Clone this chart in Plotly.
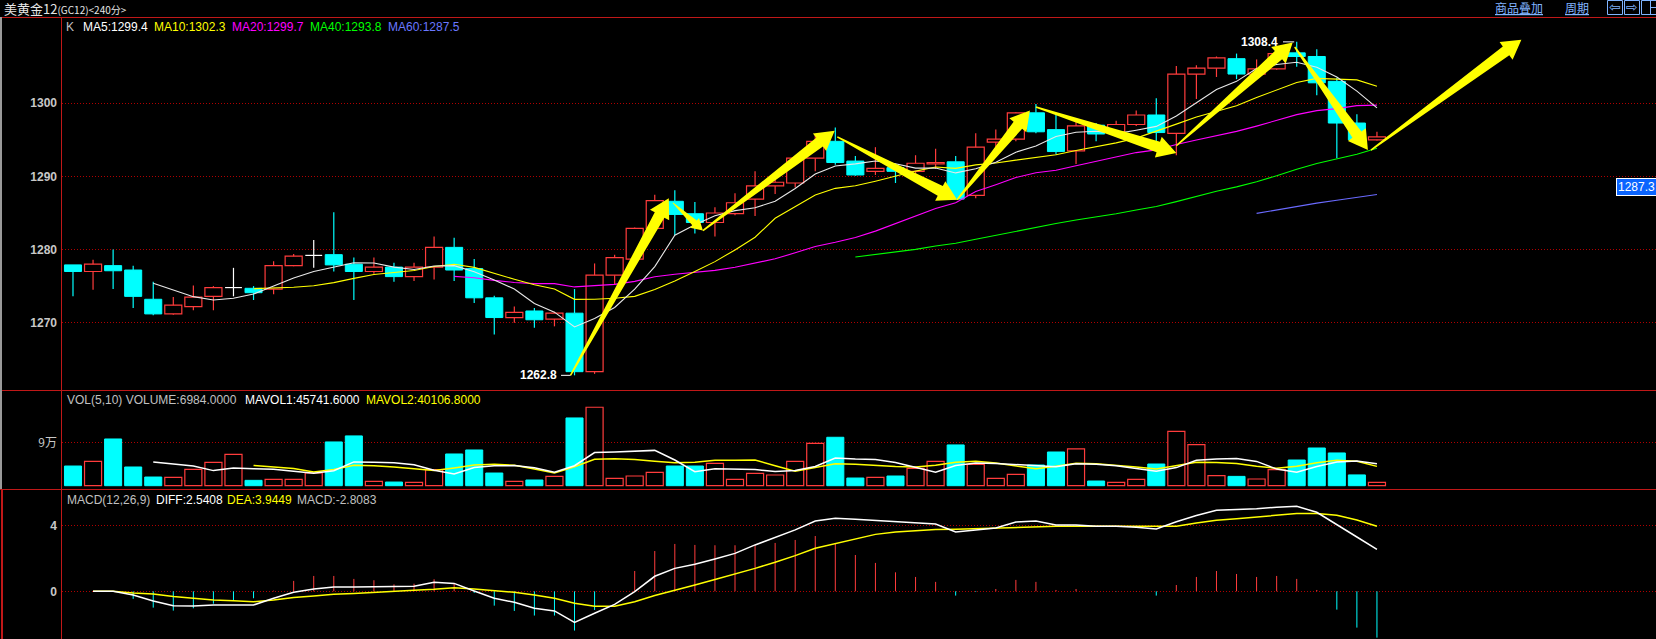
import math
import plotly.graph_objects as go

W, H = 1656, 639

# ---------------- data ----------------
OPEN = [1277.9, 1277.0, 1277.8, 1277.2, 1273.2, 1271.2, 1272.2, 1273.6, 1274.8, 1274.7,
        1274.6, 1277.8, 1279.2, 1279.3, 1278.0, 1277.0, 1277.6, 1276.3, 1277.6, 1280.3,
        1277.4, 1273.4, 1270.7, 1271.6, 1270.5, 1271.3, 1263.3, 1276.5, 1278.7, 1282.9,
        1286.6, 1284.9, 1283.7, 1284.9, 1286.9, 1288.7, 1289.1, 1292.5, 1294.8, 1292.1,
        1290.7, 1291.2, 1290.7, 1291.7, 1292.0, 1287.4, 1294.7, 1295.1, 1298.7, 1296.4,
        1293.5, 1297.0, 1296.1, 1297.1, 1298.4, 1295.9, 1304.0, 1304.8, 1306.1, 1304.0,
        1304.7, 1306.9, 1306.4, 1303.0, 1297.3, 1295.0]
HIGH = [1277.9, 1278.6, 1280.0, 1277.8, 1275.6, 1273.5, 1275.1, 1275.0, 1277.5, 1275.0,
        1278.4, 1279.4, 1281.3, 1285.1, 1278.9, 1278.9, 1278.2, 1278.2, 1281.8, 1281.6,
        1278.7, 1273.7, 1272.2, 1272.0, 1271.5, 1274.6, 1278.1, 1279.3, 1283.0, 1287.5,
        1288.1, 1286.5, 1285.8, 1287.7, 1290.7, 1289.7, 1292.5, 1295.7, 1296.7, 1292.8,
        1294.0, 1291.2, 1292.9, 1293.8, 1292.8, 1295.9, 1296.4, 1298.8, 1299.9, 1298.7,
        1297.6, 1297.3, 1297.6, 1299.0, 1300.7, 1305.1, 1305.2, 1306.4, 1306.8, 1306.0,
        1307.8, 1308.4, 1307.4, 1303.5, 1298.5, 1296.1]
LOW = [1273.6, 1274.5, 1274.6, 1272.0, 1271.0, 1271.1, 1271.7, 1271.7, 1273.6, 1273.1,
       1273.9, 1277.7, 1277.5, 1277.0, 1273.1, 1276.7, 1275.6, 1275.7, 1275.9, 1275.7,
       1272.7, 1268.4, 1270.0, 1269.3, 1269.5, 1262.8, 1263.0, 1275.2, 1278.6, 1282.8,
       1282.0, 1282.2, 1281.8, 1284.7, 1284.6, 1287.6, 1288.5, 1290.7, 1291.6, 1290.1,
       1290.2, 1289.1, 1289.4, 1291.0, 1286.9, 1287.0, 1293.8, 1294.8, 1295.9, 1293.0,
       1291.7, 1294.8, 1295.4, 1296.9, 1294.8, 1292.9, 1300.6, 1303.6, 1303.3, 1303.6,
       1304.6, 1305.0, 1301.1, 1292.5, 1294.4, 1294.9]
CLOSE = [1277.0, 1278.0, 1277.1, 1273.6, 1271.2, 1272.4, 1273.5, 1274.8, 1274.8, 1274.1,
         1277.8, 1279.1, 1279.2, 1277.9, 1277.0, 1277.6, 1276.3, 1277.6, 1280.3, 1277.2,
         1273.4, 1270.7, 1271.4, 1270.4, 1271.3, 1263.3, 1276.5, 1278.9, 1282.9, 1286.7,
         1284.8, 1283.7, 1285.0, 1286.4, 1288.7, 1289.2, 1292.5, 1294.8, 1291.9, 1290.2,
         1291.1, 1290.7, 1291.8, 1291.9, 1286.9, 1294.0, 1295.1, 1298.7, 1296.1, 1293.4,
         1296.9, 1295.8, 1297.1, 1298.4, 1296.0, 1304.0, 1304.8, 1306.2, 1304.0, 1304.7,
         1306.8, 1306.4, 1302.8, 1297.3, 1295.0, 1295.4]

MA5 = [None] * 4 + [
    1275.38, 1274.46, 1273.56, 1273.10, 1273.34, 1273.92, 1275.00, 1276.12, 1277.00, 1277.62,
    1278.20, 1278.16, 1277.60, 1277.28, 1277.76, 1277.80, 1276.96, 1275.84, 1274.60, 1272.62,
    1271.44, 1269.42, 1270.58, 1272.08, 1274.58, 1277.66, 1281.96, 1283.40, 1284.62, 1285.32,
    1285.72, 1286.60, 1288.36, 1290.32, 1291.42, 1291.72, 1292.10, 1291.74, 1291.14, 1291.14,
    1290.48, 1291.06, 1291.94, 1293.32, 1294.16, 1295.46, 1296.04, 1296.18, 1295.86, 1296.32,
    1296.84, 1298.26, 1300.06, 1301.88, 1303.00, 1304.74, 1305.30, 1305.62, 1304.94, 1303.60,
    1301.66, 1299.38]
MA10 = [None] * 9 + [
    1274.65, 1274.73, 1274.84, 1275.05, 1275.48, 1276.06, 1276.58, 1276.86, 1277.14, 1277.69,
    1278.00, 1277.56, 1276.72, 1275.94, 1275.19, 1274.62, 1273.19, 1273.21, 1273.34, 1273.60,
    1274.55, 1275.69, 1276.99, 1278.35, 1279.95, 1281.69, 1284.28, 1285.88, 1287.47, 1288.37,
    1288.72, 1289.35, 1290.05, 1290.73, 1291.28, 1291.10, 1291.58, 1291.84, 1292.23, 1292.65,
    1292.97, 1293.55, 1294.06, 1294.59, 1295.24, 1296.15, 1297.15, 1298.12, 1298.87, 1299.66,
    1300.79, 1301.78, 1302.84, 1303.41, 1303.30, 1303.20, 1302.34]
MA20 = [None] * 19 + [
    1276.33, 1276.15, 1275.78, 1275.50, 1275.34, 1275.34, 1274.89, 1275.04, 1275.24, 1275.65,
    1276.28, 1276.63, 1276.86, 1277.15, 1277.57, 1278.16, 1278.74, 1279.55, 1280.41, 1280.99,
    1281.64, 1282.52, 1283.52, 1284.54, 1285.62, 1286.40, 1287.93, 1288.86, 1289.85, 1290.51,
    1290.85, 1291.45, 1292.06, 1292.66, 1293.26, 1293.63, 1294.37, 1294.98, 1295.55, 1296.16,
    1296.88, 1297.67, 1298.45, 1299.00, 1299.27, 1299.68, 1299.75]
MA40 = [None] * 39 + [
    1278.98, 1279.33, 1279.65, 1280.02, 1280.48, 1280.87, 1281.41, 1281.95, 1282.55, 1283.08,
    1283.56, 1284.04, 1284.46, 1284.90, 1285.42, 1285.89, 1286.55, 1287.26, 1287.98, 1288.57,
    1289.26, 1290.09, 1290.99, 1291.77, 1292.44, 1293.04, 1293.84]
MA60 = [None] * 59 + [1284.95, 1285.44, 1285.92, 1286.35, 1286.74, 1287.14, 1287.52]

VOLUME = [40800, 50500, 96900, 38800, 18000, 17300, 33900, 48500, 65100, 11100,
          13200, 13200, 26300, 90700, 103200, 9000, 7600, 6900, 33200, 65800,
          74100, 26300, 9000, 11800, 19400, 140500, 162700, 15200, 20100, 27700,
          40800, 40800, 46400, 13200, 25600, 22200, 50500, 87900, 100400, 15900,
          17300, 20100, 36000, 50500, 84500, 44300, 15200, 23500, 42900, 69900,
          76200, 9700, 6900, 13200, 45000, 112800, 85000, 20800, 19300, 13900,
          33360, 53300, 78200, 67900, 22324, 6984]
MAVOL1 = [None] * 4 + [
    49000, 44300, 40980, 31300, 36560, 35180, 34360, 30220, 25780, 30900,
    49320, 48480, 47360, 43480, 31980, 24500, 37520, 41260, 41680, 37400,
    28120, 41400, 68680, 69920, 71580, 73240, 53300, 28920, 35160, 33780,
    33360, 29640, 31580, 39880, 57320, 55380, 54400, 48320, 37940, 27960,
    41680, 47080, 46100, 43600, 42080, 39160, 45540, 44440, 41120, 35180,
    30200, 37520, 52580, 55360, 56580, 50360, 34470, 28130, 39610, 49330,
    51020, 45741.6]
MAVOL2 = [None] * 9 + [
    42090, 39330, 35600, 28540, 33730, 42250, 41420, 38790, 34630, 31440,
    36910, 43000, 44310, 42580, 34690, 26310, 39460, 54970, 55800, 54490,
    50680, 47350, 48800, 52540, 52680, 53300, 41470, 30250, 37520, 45550,
    44370, 42020, 39950, 38910, 42640, 48530, 50740, 47210, 40770, 35020,
    40420, 46310, 45270, 42360, 38630, 34680, 41530, 48510, 48240, 45880,
    40280, 36000, 40360, 47490, 52960, 50690, 40106.8]

DIFF = [None, 0.0, 0.0, -0.22, -0.59, -0.87, -0.89, -0.83, -0.83, -0.83,
        -0.42, -0.06, 0.14, 0.26, 0.26, 0.26, 0.26, 0.30, 0.55, 0.48,
        0.02, -0.42, -0.67, -1.03, -1.19, -1.88, -1.33, -0.79, -0.02, 0.91,
        1.39, 1.64, 1.96, 2.30, 2.81, 3.25, 3.72, 4.26, 4.42, 4.36,
        4.28, 4.20, 4.14, 4.08, 3.60, 3.70, 3.84, 4.20, 4.26, 4.02,
        4.02, 3.94, 3.94, 3.88, 3.78, 4.22, 4.59, 4.91, 4.95, 5.01,
        5.09, 5.15, 4.79, 4.02, 3.29, 2.5408]
DEA = [None, 0.0, 0.0, -0.10, -0.16, -0.32, -0.42, -0.53, -0.57, -0.63,
       -0.53, -0.38, -0.28, -0.18, -0.14, -0.06, 0.02, 0.06, 0.12, 0.22,
       0.14, 0.06, -0.06, -0.22, -0.42, -0.73, -0.91, -0.91, -0.63, -0.26,
       0.04, 0.38, 0.71, 1.03, 1.39, 1.76, 2.16, 2.61, 2.89, 3.17,
       3.45, 3.60, 3.68, 3.74, 3.76, 3.80, 3.82, 3.88, 3.94, 3.94,
       3.94, 3.94, 3.94, 3.94, 3.94, 3.94, 4.14, 4.30, 4.40, 4.50,
       4.61, 4.71, 4.71, 4.61, 4.32, 3.9449]
MACD = [None, 0.0, 0.0, -0.46, -0.99, -1.17, -1.03, -0.75, -0.55, -0.42,
        0.04, 0.63, 0.93, 0.93, 0.75, 0.67, 0.42, 0.46, 0.73, 0.50,
        -0.10, -0.87, -1.19, -1.47, -1.47, -2.38, -1.13, 0.0, 1.23, 2.44,
        2.87, 2.81, 2.79, 2.79, 2.79, 2.93, 3.11, 3.35, 2.89, 2.20,
        1.72, 1.15, 0.87, 0.57, -0.26, -0.04, 0.14, 0.69, 0.57, 0.08,
        0.14, -0.02, -0.02, 0.02, -0.26, 0.38, 0.87, 1.23, 1.05, 0.87,
        0.93, 0.75, 0.08, -1.11, -2.20, -2.8083]

# hand-drawn yellow arrows: (tail index, tail price, head index, head price, size)
ARROWS = [(24.8, 1262.8, 29.7, 1287.0, 1.0),
          (29.9, 1286.4, 31.4, 1282.6, 0.6),
          (31.4, 1282.6, 37.97, 1296.25, 1.0),
          (38.1, 1295.4, 44.07, 1286.8, 1.0),
          (44.07, 1286.8, 47.7, 1299.0, 1.0),
          (48.0, 1299.5, 55.0, 1293.2, 1.0),
          (55.0, 1294.2, 60.8, 1308.3, 1.0),
          (60.9, 1307.7, 64.55, 1293.6, 1.0),
          (64.7, 1293.6, 72.2, 1308.7, 1.0)]

LOW_MARK = (25, 1262.8)
HIGH_MARK = (61, 1308.4)
PRICE_TAG = 1287.3

LEGEND_MAIN = [("K", "#c0c0c0"), ("MA5:1299.4", "#ffffff"), ("MA10:1302.3", "#ffff00"),
               ("MA20:1299.7", "#ff00ff"), ("MA40:1293.8", "#00ff00"), ("MA60:1287.5", "#6a78ff")]
LEGEND_VOL = [("VOL(5,10) VOLUME:6984.0000", "#c0c0c0"), ("MAVOL1:45741.6000", "#ffffff"),
              ("MAVOL2:40106.8000", "#ffff00")]
LEGEND_MACD = [("MACD(12,26,9)", "#c0c0c0"), ("DIFF:2.5408", "#ffffff"),
               ("DEA:3.9449", "#ffff00"), ("MACD:-2.8083", "#c0c0c0")]

# ---------------- layout geometry ----------------
LEFT = 62
X_RANGE = [-0.548, 78.91]
Y_MAIN = [1260.795, 1311.80]
Y_VOL = [-6843, 198453]
Y_MACD = [-2.891, 6.2]
TOP_PX, MAIN_BOT_PX, VOL_BOT_PX = 17, 390, 489
PXX = (W - LEFT) / (X_RANGE[1] - X_RANGE[0])
PXY = (MAIN_BOT_PX - TOP_PX) / (Y_MAIN[1] - Y_MAIN[0])

RED = "#ff3c3c"
CYAN = "#00ffff"
GRID = "#b00000"
SEP = "#c01818"
LINK = "#80b4ff"
FONT = "Liberation Sans, Arial, sans-serif"
CJK = "Noto Sans CJK SC, sans-serif"

N = len(CLOSE)
X = list(range(N))
up = [i for i in X if CLOSE[i] > OPEN[i]]
dn = [i for i in X if CLOSE[i] < OPEN[i]]
dj = [i for i in X if CLOSE[i] == OPEN[i]]

fig = go.Figure()


def wicks(idx):
    xs, ys = [], []
    for i in idx:
        top, bot = max(OPEN[i], CLOSE[i]), min(OPEN[i], CLOSE[i])
        if HIGH[i] > top:
            xs += [i, i, None]
            ys += [HIGH[i], top, None]
        if LOW[i] < bot:
            xs += [i, i, None]
            ys += [bot, LOW[i], None]
    return xs, ys


for idx, col in ((up, RED), (dn, CYAN)):
    wx, wy = wicks(idx)
    fig.add_trace(go.Scatter(x=wx, y=wy, mode="lines", line=dict(color=col, width=1.2),
                             yaxis="y", hoverinfo="skip"))

# doji crosses
dx, dy = [], []
for i in dj:
    dx += [i, i, None, i - 0.42, i + 0.42, None]
    dy += [HIGH[i], LOW[i], None, CLOSE[i], CLOSE[i], None]
fig.add_trace(go.Scatter(x=dx, y=dy, mode="lines", line=dict(color="#ffffff", width=1.2),
                         yaxis="y", hoverinfo="skip"))

fig.add_trace(go.Bar(x=up, base=[OPEN[i] for i in up], y=[CLOSE[i] - OPEN[i] for i in up],
                     width=0.85, marker=dict(color="black", line=dict(color=RED, width=1.2)),
                     yaxis="y"))
fig.add_trace(go.Bar(x=dn, base=[CLOSE[i] for i in dn], y=[OPEN[i] - CLOSE[i] for i in dn],
                     width=0.85, marker=dict(color=CYAN, line=dict(color=CYAN, width=1)),
                     yaxis="y"))

for ser, col in ((MA60, "#6a6aff"), (MA40, "#00ff00"), (MA20, "#ff00ff"),
                 (MA10, "#ffff00"), (MA5, "#e8e8e8")):
    fig.add_trace(go.Scatter(x=X, y=ser, mode="lines", line=dict(color=col, width=1.1),
                             yaxis="y", hoverinfo="skip"))

# volume
vup = [i for i in X if CLOSE[i] >= OPEN[i]]
vdn = [i for i in X if CLOSE[i] < OPEN[i]]
fig.add_trace(go.Bar(x=vup, y=[VOLUME[i] for i in vup], width=0.85,
                     marker=dict(color="black", line=dict(color=RED, width=1.2)), yaxis="y2"))
fig.add_trace(go.Bar(x=vdn, y=[VOLUME[i] for i in vdn], width=0.85,
                     marker=dict(color=CYAN, line=dict(color=CYAN, width=1)), yaxis="y2"))
fig.add_trace(go.Scatter(x=X, y=MAVOL2, mode="lines", line=dict(color="#ffff00", width=1.5),
                         yaxis="y2", hoverinfo="skip"))
fig.add_trace(go.Scatter(x=X, y=MAVOL1, mode="lines", line=dict(color="#ffffff", width=1.5),
                         yaxis="y2", hoverinfo="skip"))

# MACD histogram as thin sticks
for sign, col in ((1, RED), (-1, CYAN)):
    hx, hy = [], []
    for i in X:
        v = MACD[i]
        if v is None or v == 0 or (v > 0) != (sign > 0):
            continue
        hx += [i, i, None]
        hy += [0, v, None]
    fig.add_trace(go.Scatter(x=hx, y=hy, mode="lines", line=dict(color=col, width=1),
                             yaxis="y3", hoverinfo="skip"))
fig.add_trace(go.Scatter(x=X, y=DEA, mode="lines", line=dict(color="#ffff00", width=1.5),
                         yaxis="y3", hoverinfo="skip"))
fig.add_trace(go.Scatter(x=X, y=DIFF, mode="lines", line=dict(color="#ffffff", width=1.5),
                         yaxis="y3", hoverinfo="skip"))

# ---------------- shapes ----------------
shapes = []


def pline(x0, y0, x1, y1, color, width=1):
    shapes.append(dict(type="line", xref="paper", yref="paper",
                       x0=x0 / W, x1=x1 / W, y0=1 - y0 / H, y1=1 - y1 / H,
                       line=dict(color=color, width=width), layer="above"))


for py in (TOP_PX, MAIN_BOT_PX, VOL_BOT_PX):
    pline(0, py + 0.5, W, py + 0.5, SEP)
pline(LEFT - 0.5, TOP_PX, LEFT - 0.5, H, SEP)
pline(1, TOP_PX, 1, VOL_BOT_PX, "#9a9a9a", 2)
pline(2, VOL_BOT_PX, 2, H, SEP, 2)

# toolbar icon frames (top right)
for x0 in (1607.5, 1624.5, 1641.5):
    shapes.append(dict(type="rect", xref="paper", yref="paper", x0=x0 / W, x1=(x0 + 15) / W,
                       y0=1 - 14.5 / H, y1=1 - 0.5 / H, line=dict(color=LINK, width=1),
                       fillcolor="rgba(0,0,0,0)", layer="above"))
pline(1650.5, 0.5, 1650.5, 14.5, LINK)
pline(1650.5, 7.5, 1656.5, 7.5, LINK)


def arrow_path(x0, y0, x1, y1, s):
    ax0, ay0 = x0 * PXX, -y0 * PXY
    ax1, ay1 = x1 * PXX, -y1 * PXY
    ddx, ddy = ax1 - ax0, ay1 - ay0
    L = math.hypot(ddx, ddy)
    ux, uy = ddx / L, ddy / L
    nx, ny = -uy, ux
    tw, bw, hw, hl = 1.5 * s, 11 * s, 22 * s, 19 * s
    kx, ky = ax1 - ux * hl, ay1 - uy * hl
    pts = [(ax0 + nx * tw / 2, ay0 + ny * tw / 2),
           (kx + nx * bw / 2, ky + ny * bw / 2),
           (kx + nx * hw / 2, ky + ny * hw / 2),
           (ax1, ay1),
           (kx - nx * hw / 2, ky - ny * hw / 2),
           (kx - nx * bw / 2, ky - ny * bw / 2),
           (ax0 - nx * tw / 2, ay0 - ny * tw / 2)]
    return "M " + " L ".join(f"{px / PXX:.4f},{-py / PXY:.4f}" for px, py in pts) + " Z"


for a in ARROWS:
    shapes.append(dict(type="path", xref="x", yref="y", path=arrow_path(*a),
                       fillcolor="#ffff00", line=dict(width=0), layer="above"))

# little leader lines of the extreme labels
for (ix, val), (a, b) in ((LOW_MARK, (13.5, 4.0)), (HIGH_MARK, (13.7, 2.5))):
    shapes.append(dict(type="line", xref="x", yref="y", x0=ix - a / PXX, x1=ix - b / PXX,
                       y0=val, y1=val, line=dict(color="#ffffff", width=1)))

# ---------------- annotations ----------------
ann = []


def ptext(text, x, y, color, size=12, family=FONT, xanchor="left", **kw):
    ann.append(dict(text=text, x=x / W, y=1 - y / H, xref="paper", yref="paper",
                    xanchor=xanchor, yanchor="middle", showarrow=False,
                    font=dict(color=color, size=size, family=family), **kw))


ptext("美黄金12<span style='font-size:10px'>(GC12)&lt;240分&gt;</span>", 2, 9, "#e6e6e6",
      13, CJK)
ptext("<u>商品叠加</u>", 1493, 8, LINK, 12, CJK)
ptext("<u>周期</u>", 1563, 8, LINK, 12, CJK)
for cx, glyph in ((1615, "⇦"), (1632, "⇨")):
    ptext(glyph, cx, 7.5, LINK, 14, "DejaVu Sans", xanchor="center")

for (txt, col), px in zip(LEGEND_MAIN, (64, 81, 152, 230, 308, 386)):
    ptext(txt, px, 27, col)
for (txt, col), px in zip(LEGEND_VOL, (64.6, 242.5, 364)):
    ptext(txt, px, 400, col)
for (txt, col), px in zip(LEGEND_MACD, (64.6, 153.5, 225, 295)):
    ptext(txt, px, 500, col)

for (ix, val), shift in ((LOW_MARK, -16), (HIGH_MARK, -16.7)):
    ann.append(dict(text=f"{val:.1f}", x=ix, y=val, xref="x", yref="y", xanchor="right",
                    yanchor="middle", xshift=shift, showarrow=False,
                    font=dict(color="#ffffff", size=12, family=FONT, weight="bold")))

ann.append(dict(text=f"{PRICE_TAG:.1f}", x=1616 / W, y=PRICE_TAG, xref="paper", yref="y",
                xanchor="left", yanchor="bottom", showarrow=False, bgcolor="#0a64ff",
                bordercolor="#ffffff", borderwidth=1, borderpad=1,
                font=dict(color="#ffffff", size=12, family=FONT)))

# ---------------- axes ----------------
def dom(top_px, bot_px):
    return [1 - bot_px / H, 1 - top_px / H]


common = dict(anchor="x", showgrid=True, gridcolor=GRID, griddash="1px,2px", gridwidth=1,
              zeroline=False, showline=False, ticks="", fixedrange=True,
              ticklabelstandoff=4)
tick_bold = dict(color="#c8c8c8", size=12, family=FONT, weight="bold")

fig.update_layout(
    width=W, height=H, margin=dict(l=0, r=0, t=0, b=0),
    paper_bgcolor="black", plot_bgcolor="black",
    showlegend=False, barmode="overlay", hovermode=False,
    xaxis=dict(domain=[LEFT / W, 1], range=X_RANGE, showgrid=False, zeroline=False,
               showticklabels=False, ticks="", showline=False, anchor="y3",
               fixedrange=True),
    yaxis=dict(domain=dom(TOP_PX, MAIN_BOT_PX), range=Y_MAIN,
               tickvals=[1270, 1280, 1290, 1300], tickfont=tick_bold, **common),
    yaxis2=dict(domain=dom(MAIN_BOT_PX, VOL_BOT_PX), range=Y_VOL, tickvals=[90000],
                ticktext=["9万"], tickfont=dict(color="#c8c8c8", size=12, family=CJK),
                **common),
    yaxis3=dict(domain=dom(VOL_BOT_PX, H), range=Y_MACD, tickvals=[0, 4],
                tickfont=tick_bold, **common),
    shapes=shapes,
    annotations=ann,
)

fig.write_html(
    "out.html",
    config={"displayModeBar": False},
    post_script="document.body.style.margin='0';document.body.style.overflow='hidden';",
)
